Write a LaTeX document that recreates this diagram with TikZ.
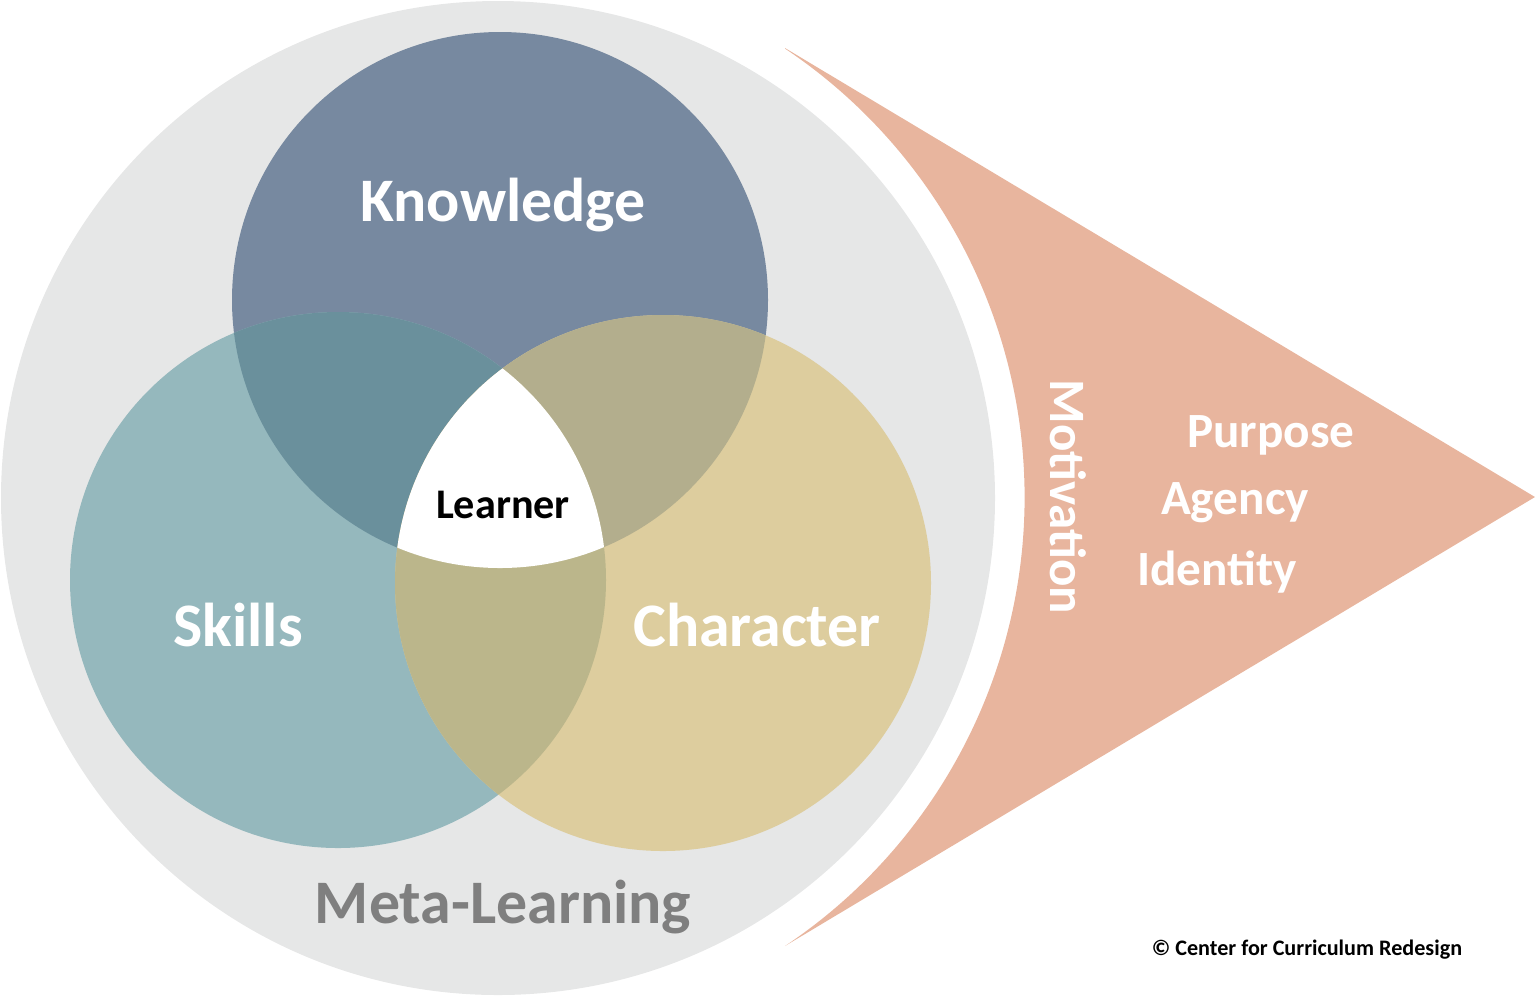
\documentclass[tikz,border=0pt]{standalone}
\usepackage{fontspec}
\setmainfont{Carlito}
\definecolor{meta}{HTML}{E6E7E7}
\definecolor{know}{HTML}{7789A0}
\definecolor{skil}{HTML}{95B8BD}
\definecolor{char}{HTML}{DDCD9E}
\definecolor{ks}{HTML}{6A909C}
\definecolor{kc}{HTML}{B3AE8D}
\definecolor{sc}{HTML}{BBB68B}
\definecolor{pink}{HTML}{E8B59E}
\definecolor{mgray}{HTML}{7F7F7F}
\tikzset{lbl/.style={font=\bfseries\fontsize{#1}{#1}\selectfont,text=white,inner sep=0pt}}
\begin{document}
\begin{tikzpicture}[x=0.01cm,y=-0.01cm]
\useasboundingbox (0,0) rectangle (1536,996);
\fill[meta] (498,498) circle (497);
\fill[pink] (785,48) -- (1535,497) -- (785,946) arc[start angle=56.2,end angle=-56.2,radius=540] -- cycle;
\fill[know] (500,300) circle (268);
\fill[skil] (338,580) circle (268);
\fill[char] (663,583) circle (268);
\begin{scope}\clip (500,300) circle (268); \fill[ks] (338,580) circle (268);\end{scope}
\begin{scope}\clip (500,300) circle (268); \fill[kc] (663,583) circle (268);\end{scope}
\begin{scope}\clip (338,580) circle (268); \fill[sc] (663,583) circle (268);\end{scope}
\begin{scope}\clip (338,580) circle (268); \clip (663,583) circle (268); \fill[white] (500,300) circle (268);\end{scope}
\node[lbl=17.6pt] (k) at (503,205) {Knowledge};
\node[lbl=17.6pt] (s) at (238,625) {Skills};
\node[lbl=17.6pt] (c) at (757,625) {Character};
\node[lbl=12pt,text=black] (l) at (503,505) {Learner};
\node[lbl=17.6pt,text=mgray] (m) at (503,907) {Meta-Learning};
\node[lbl=14.5pt,rotate=-90] (mo) at (1068,497) {Motivation};
\node[lbl=14pt] (p) at (1271,435) {Purpose};
\node[lbl=14pt] (a) at (1235,503) {Agency};
\node[lbl=14pt] (i) at (1217,572) {Identity};
\node[lbl=6.3pt,text=black] (cr) at (1307,950) {© Center for Curriculum Redesign};
\end{tikzpicture}
\end{document}
